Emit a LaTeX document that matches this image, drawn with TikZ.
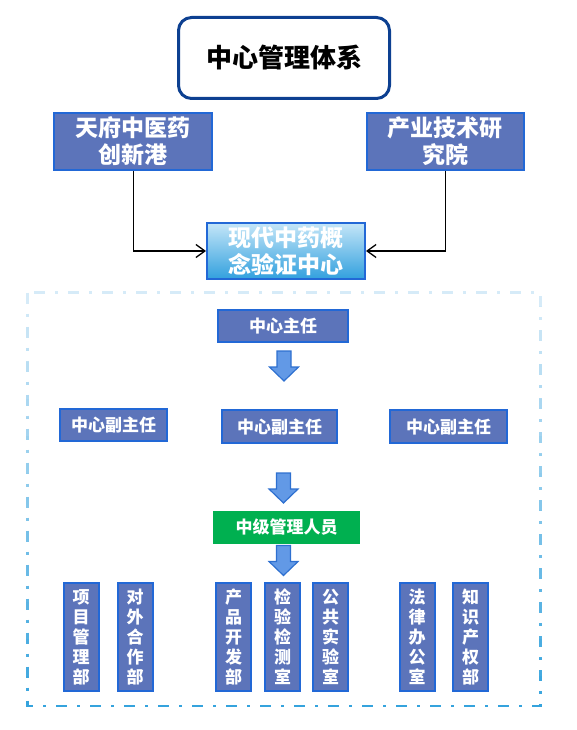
\documentclass[tikz,border=0pt]{standalone}
\usepackage{fontspec}
\setmainfont{Noto Sans CJK SC}
\usetikzlibrary{arrows.meta}
\definecolor{slate}{RGB}{92,116,186}
\definecolor{bordb}{RGB}{34,104,214}
\definecolor{titleb}{RGB}{13,64,145}
\definecolor{arrf}{RGB}{98,153,230}
\definecolor{arrd}{RGB}{46,112,208}
\definecolor{grn}{RGB}{0,176,80}
\definecolor{fl}{RGB}{214,235,248}
\definecolor{fd}{RGB}{46,160,220}
\definecolor{gtop}{RGB}{196,230,248}
\definecolor{gbot}{RGB}{50,160,222}
\begin{document}
\begin{tikzpicture}[x=1pt,y=-1pt,
 bluebox/.style={draw=bordb, fill=slate, line width=2pt, text=white,
   font=\bfseries\fontsize{17}{20}\selectfont, inner sep=0pt, align=center},
 bigbox/.style={bluebox, font=\bfseries\fontsize{23}{27}\selectfont},
 vbox/.style={bluebox, minimum width=35pt, minimum height=108pt},
 link/.style={draw=black, line width=1.3pt,
   -{Straight Barb[length=9pt,width=13pt,line width=1.3pt]}},
 blockarrow/.pic={\filldraw[fill=arrf, draw=arrd, line width=1.2pt]
   (-7,0) -- (7,0) -- (7,16) -- (14.5,16) -- (0,30) -- (-14.5,16) -- (-7,16) -- cycle;},
]
\useasboundingbox (0,0) rectangle (577,730);

% title
\node[draw=titleb, line width=3pt, rounded corners=13pt, minimum width=211pt,
  minimum height=81pt, font=\bfseries\fontsize{26}{30}\selectfont] (title) at (284,58) {中心管理体系};

% upper boxes
\node[bigbox, minimum width=158pt, minimum height=57pt] (tf) at (133.3,141.5) {天府中医药\\创新港};
\node[bigbox, minimum width=157pt, minimum height=57pt] (cy) at (445.3,141.5) {产业技术研\\究院};
\node[bigbox, top color=gtop, bottom color=gbot, minimum width=158pt, minimum height=56pt] (xd) at (286,251) {现代中药概\\念验证中心};

\draw[link] (tf.south) |- (xd.west);
\draw[link] (cy.south) |- (xd.east);

% dashed frame with vertical colour gradient
\coordinate (fa) at (27.5,292.5);
\coordinate (fb) at (540.5,706);
\foreach \i in {0,...,23} {
  \pgfmathsetmacro\ya{288+\i*18.5}
  \pgfmathsetmacro\yb{\ya+18.7}
  \pgfmathtruncatemacro\p{round(100*\i/23)}
  \begin{scope}
    \clip (0,\ya) rectangle (577,\yb);
    \draw[color=fd!\p!fl, line width=2.6pt, dash pattern=on 11pt off 10pt on 3pt off 10pt] (fa) rectangle (fb);
  \end{scope}
}

% hierarchy
\node[bluebox, minimum width=130pt, minimum height=32pt] (zr) at (283,326) {中心主任};
\pic at (284,351) {blockarrow};
\node[bluebox, minimum width=107pt, minimum height=32pt] (f1) at (113.5,425) {中心副主任};
\node[bluebox, minimum width=115pt, minimum height=33pt] (f2) at (279.5,426.5) {中心副主任};
\node[bluebox, minimum width=117pt, minimum height=33pt] (f3) at (448.5,426.5) {中心副主任};
\pic at (283.5,473) {blockarrow};
\node[fill=grn, text=white, font=\bfseries\fontsize{17}{20}\selectfont, minimum width=147pt,
  minimum height=33pt, inner sep=0pt] (zj) at (286.5,527) {中级管理人员};
\pic at (283.5,545.5) {blockarrow};

% departments
\node[vbox] (v1) at (81,637) {项\\目\\管\\理\\部};
\node[vbox] (v2) at (135,637) {对\\外\\合\\作\\部};
\node[vbox] (v3) at (233.5,637) {产\\品\\开\\发\\部};
\node[vbox] (v4) at (282.5,637) {检\\验\\检\\测\\室};
\node[vbox] (v5) at (330.5,637) {公\\共\\实\\验\\室};
\node[vbox] (v6) at (417,637) {法\\律\\办\\公\\室};
\node[vbox] (v7) at (470.5,637) {知\\识\\产\\权\\部};
\end{tikzpicture}
\end{document}
